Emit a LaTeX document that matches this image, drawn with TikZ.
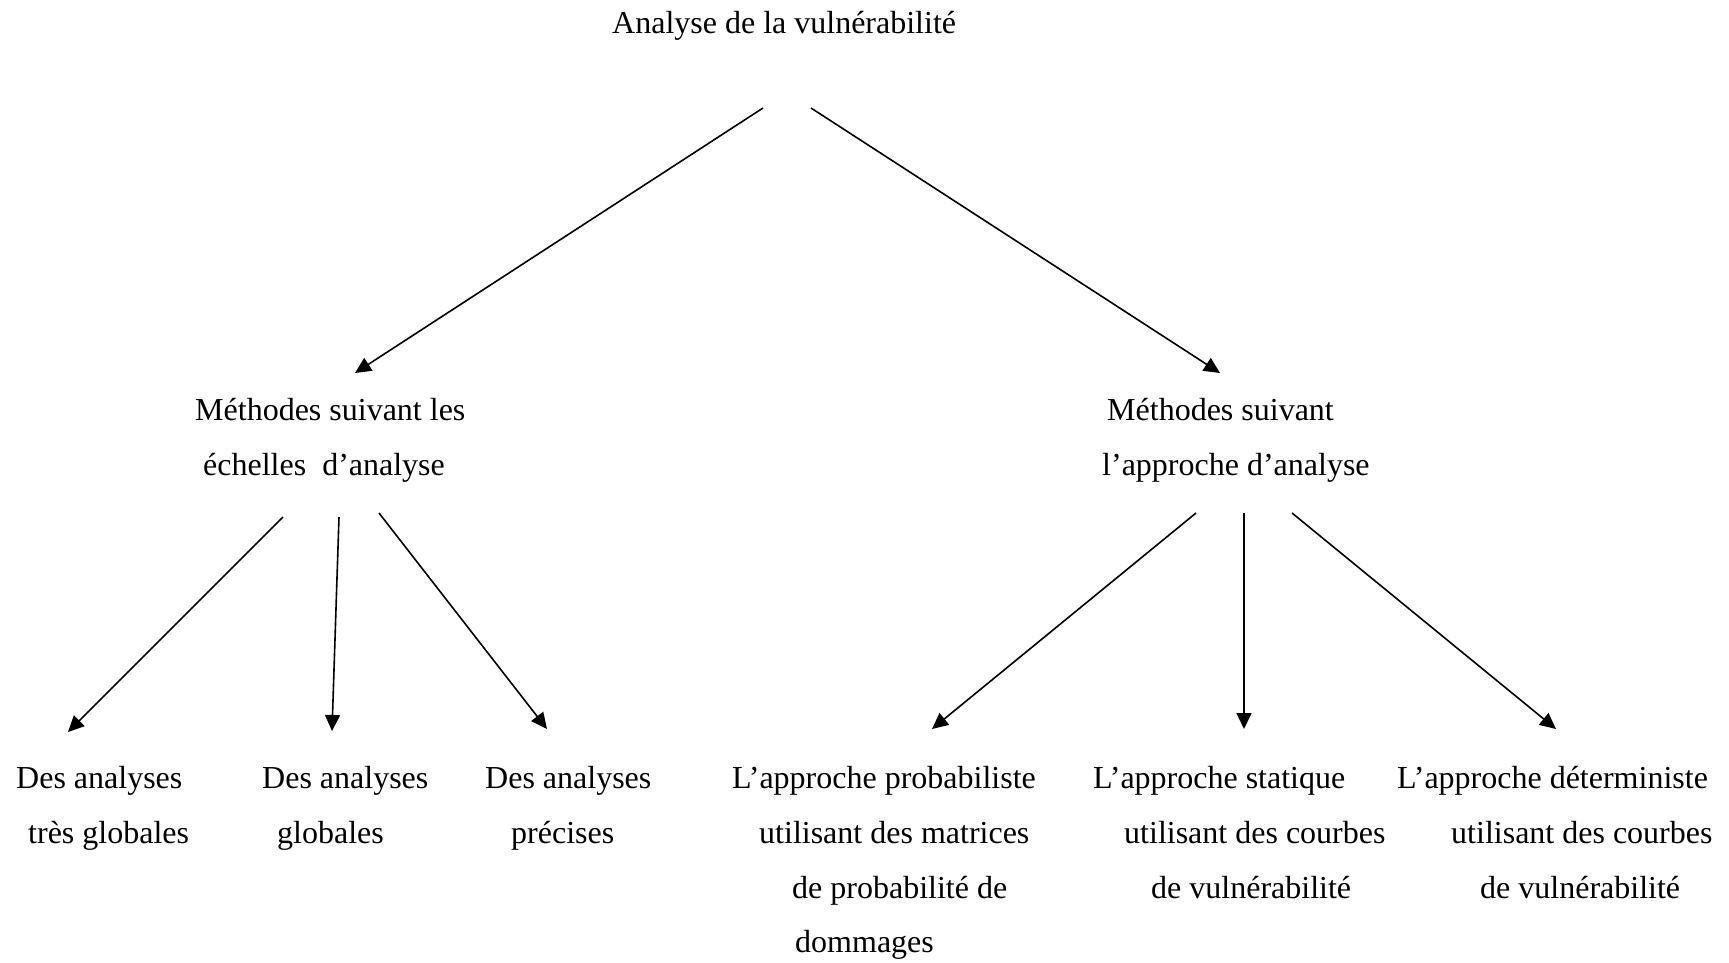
\documentclass[tikz,border=0pt]{standalone}
\usepackage{fontspec}
\setmainfont{Liberation Serif}
\usetikzlibrary{arrows.meta}
\tikzset{
  txt/.style={anchor=base west, inner sep=0pt, font=\fontsize{32}{38}\selectfont},
  arr/.style={line width=1.6pt, -{Triangle[length=16pt,width=15pt]}}
}
\begin{document}
\begin{tikzpicture}[x=1pt,y=-1pt]
\useasboundingbox (0,0) rectangle (1729,962);
% texts
\node[txt] (root) at (612,33) {Analyse de la vulnérabilité};
\node[txt] (ml1) at (195,420) {Méthodes suivant les};
\node[txt] (ml2) at (203,475) {échelles\ \ d’analyse};
\node[txt] (mr1) at (1107,420) {Méthodes suivant};
\node[txt] (mr2) at (1102,475) {l’approche d’analyse};
\node[txt] (a1) at (16,788) {Des analyses};
\node[txt] (a2) at (28,843) {très globales};
\node[txt] (b1) at (262,788) {Des analyses};
\node[txt] (b2) at (277,843) {globales};
\node[txt] (c1) at (485,788) {Des analyses};
\node[txt] (c2) at (511,843) {précises};
\node[txt] (d1) at (732,788) {L’approche probabiliste};
\node[txt] (d2) at (759,843) {utilisant des matrices};
\node[txt] (d3) at (792,898) {de probabilité de};
\node[txt] (d4) at (795,952) {dommages};
\node[txt] (e1) at (1093,788) {L’approche statique};
\node[txt] (e2) at (1124,843) {utilisant des courbes};
\node[txt] (e3) at (1151,898) {de vulnérabilité};
\node[txt] (f1) at (1397,788) {L’approche déterministe};
\node[txt] (f2) at (1451,843) {utilisant des courbes};
\node[txt] (f3) at (1480,898) {de vulnérabilité};
% connector ends
\coordinate (r0a) at (763,108);
\coordinate (r0b) at (811,108);
\coordinate (mlt) at (355,373);
\coordinate (mrt) at (1220,373);
\coordinate (mls1) at (283,517);
\coordinate (mls2) at (339,517);
\coordinate (mls3) at (379,513);
\coordinate (mrs1) at (1196,513);
\coordinate (mrs2) at (1244,513);
\coordinate (mrs3) at (1292,513);
\coordinate (at) at (68,732);
\coordinate (bt) at (332,731);
\coordinate (ct) at (547,729);
\coordinate (dt) at (932,729);
\coordinate (et) at (1244,729);
\coordinate (ft) at (1556,729);
% connectors
\draw[arr] (r0a) -- (mlt);
\draw[arr] (r0b) -- (mrt);
\draw[arr] (mls1) -- (at);
\draw[arr] (mls2) -- (bt);
\draw[arr] (mls3) -- (ct);
\draw[arr] (mrs1) -- (dt);
\draw[arr] (mrs2) -- (et);
\draw[arr] (mrs3) -- (ft);
\end{tikzpicture}
\end{document}
